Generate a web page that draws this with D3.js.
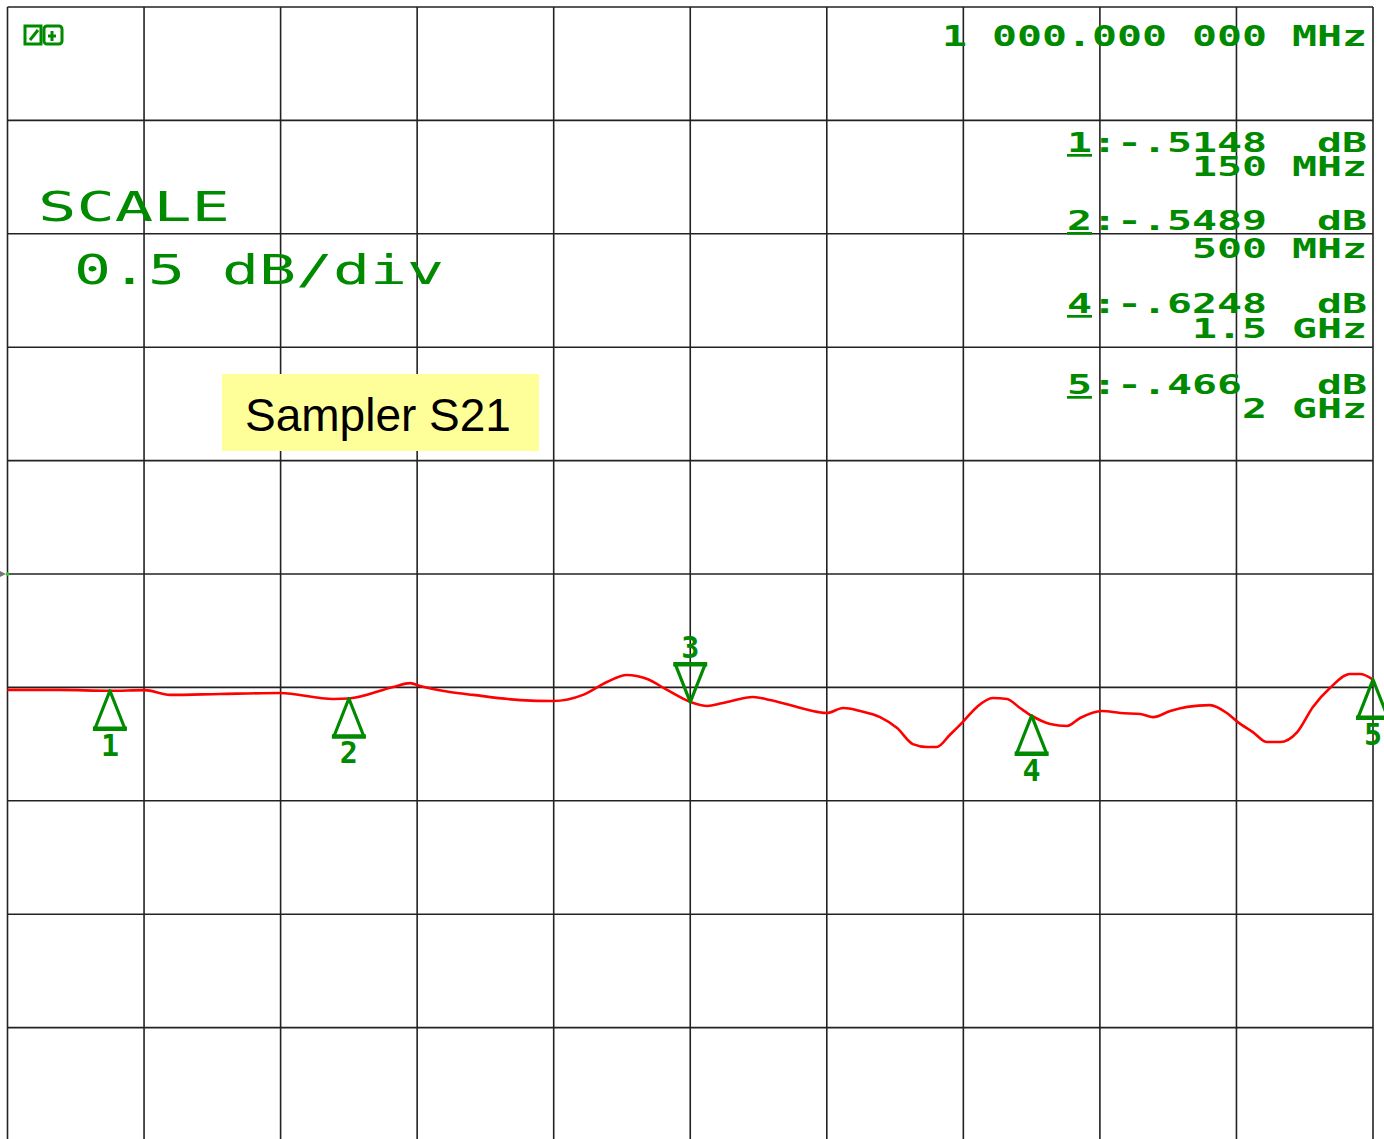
<!DOCTYPE html>
<html>
<head>
<meta charset="utf-8">
<script src="https://cdn.jsdelivr.net/npm/d3@7"></script>
<style>
  body { margin: 0; background: #fff; }
  svg { display: block; }
  .inst { font-family: "DejaVu Sans Mono", monospace; fill: #008a00; white-space: pre; }
</style>
</head>
<body>
<script>
// trace: frequency (MHz) and S21 (dB)
let traceFreq = [0, 77, 150, 201, 238, 311, 399, 477, 500, 565, 590, 604, 648, 682, 751, 799, 843, 878, 907, 937, 966,
    1000, 1025, 1054, 1092, 1117, 1146, 1186, 1200, 1224, 1249, 1278, 1303, 1326, 1347, 1361, 1380, 1399, 1420, 1443,
    1464, 1483, 1500, 1527, 1552, 1571, 1603, 1630, 1659, 1678, 1703, 1728, 1761, 1786, 1802, 1824, 1845, 1864, 1889,
    1912, 1937, 1966, 1981, 2000];
let traceDb = [-0.511, -0.511, -0.515, -0.512, -0.533, -0.529, -0.525, -0.551, -0.549, -0.498, -0.481, -0.494, -0.520,
    -0.533, -0.556, -0.560, -0.533, -0.476, -0.445, -0.463, -0.511, -0.564, -0.582, -0.564, -0.542, -0.556, -0.578,
    -0.608, -0.613, -0.591, -0.604, -0.631, -0.679, -0.750, -0.763, -0.763, -0.710, -0.653, -0.586, -0.547, -0.551,
    -0.591, -0.625, -0.661, -0.670, -0.635, -0.604, -0.613, -0.617, -0.631, -0.604, -0.586, -0.578, -0.613, -0.653,
    -0.697, -0.741, -0.741, -0.697, -0.586, -0.503, -0.441, -0.441, -0.466];

let markerIds = ["1", "2", "3", "4", "5"];
let markerFreq = [150, 500, 1000, 1500, 2000];
let markerDb = [-0.5148, -0.5489, -0.565, -0.6248, -0.466];
let markerUp = [true, true, false, true, true];

// readout block, right aligned
let readNum = ["1", "2", "4", "5"];
let readVal = [":-.5148  dB", ":-.5489  dB", ":-.6248  dB", ":-.466   dB"];
let readFreq = ["150 MHz", "500 MHz", "1.5 GHz", "2 GHz"];
let centerText = "1 000.000 000 MHz";
let scaleTitle = "SCALE";
let scaleText = "0.5 dB/div";
let labelText = "Sampler S21";

let outerWidth = 1384;
let outerHeight = 1139;
let green = "#008a00";
let pitch = 25;

let svg = d3.select("body")
    .append("svg")
    .attr("width", outerWidth)
    .attr("height", outerHeight);

let xScale = d3.scaleLinear().domain([0, 2000]).range([7.5, 1373]);
let yScale = d3.scaleLinear().domain([-2.5, 2.5]).range([1141, 7]);

// grid
let grid = svg.append("g").attr("class", "grid");
grid.selectAll(".vline")
    .data(d3.range(0, 2001, 200))
    .enter()
    .append("line")
        .attr("x1", d => xScale(d)).attr("x2", d => xScale(d))
        .attr("y1", yScale(2.5)).attr("y2", outerHeight)
        .attr("stroke", "#222").attr("stroke-width", 1.6);
grid.selectAll(".hline")
    .data(d3.range(-2.5, 2.51, 0.5))
    .enter()
    .append("line")
        .attr("x1", xScale(0)).attr("x2", xScale(2000))
        .attr("y1", d => yScale(d)).attr("y2", d => yScale(d))
        .attr("stroke", "#222").attr("stroke-width", 1.6);

// reference position arrow on the left
svg.append("path")
    .attr("d", "M0," + (yScale(0) - 3) + "L6," + yScale(0) + "L0," + (yScale(0) + 3) + "Z")
    .attr("fill", "#777");
svg.append("circle")
    .attr("cx", xScale(0)).attr("cy", yScale(0)).attr("r", 1.8)
    .attr("fill", "#2c2");

// top-left status symbol
let sym = svg.append("g").attr("fill", "none").attr("stroke", green).attr("stroke-width", 3);
sym.append("rect").attr("x", 25).attr("y", 26).attr("width", 16).attr("height", 18);
sym.append("rect").attr("x", 44).attr("y", 26).attr("width", 18).attr("height", 18).attr("rx", 3);
sym.append("path").attr("d", "M30,40 L38,30 M48,36 L56,36 M52,31 L52,41");

// label box
svg.append("rect")
    .attr("x", 222).attr("y", 374).attr("width", 317).attr("height", 77)
    .attr("fill", "#ffff99");
svg.append("text")
    .attr("x", 378).attr("y", 431)
    .attr("text-anchor", "middle")
    .style("font-family", "'Liberation Sans', Arial, sans-serif")
    .style("font-size", "46px")
    .attr("fill", "#000")
    .text(labelText);

// scale text
svg.append("text").attr("class", "inst")
    .attr("x", 38).attr("y", 221)
    .style("font-size", "41px")
    .attr("textLength", 192).attr("lengthAdjust", "spacingAndGlyphs")
    .text(scaleTitle);
svg.append("text").attr("class", "inst")
    .attr("x", 74).attr("y", 284)
    .style("font-size", "41px")
    .attr("textLength", 370).attr("lengthAdjust", "spacingAndGlyphs")
    .text(scaleText);

// centre frequency
svg.append("text").attr("class", "inst")
    .attr("x", 1367 - centerText.length * pitch).attr("y", 46)
    .style("font-size", "28px").style("font-weight", "bold")
    .attr("textLength", centerText.length * pitch).attr("lengthAdjust", "spacingAndGlyphs")
    .text(centerText);

// marker readouts
let rowY = [152, 230, 313, 394];
let freqY = [176, 258, 338, 418];
readNum.forEach(function(n, i) {
    let full = n + readVal[i];
    let t = svg.append("text").attr("class", "inst")
        .attr("x", 1367 - full.length * pitch).attr("y", rowY[i])
        .style("font-size", "27px").style("font-weight", "bold")
        .attr("textLength", full.length * pitch).attr("lengthAdjust", "spacingAndGlyphs");
    t.append("tspan").attr("text-decoration", "underline").text(n);
    t.append("tspan").text(readVal[i]);
    svg.append("text").attr("class", "inst")
        .attr("x", 1367 - readFreq[i].length * pitch).attr("y", freqY[i])
        .style("font-size", "27px").style("font-weight", "bold")
        .attr("textLength", readFreq[i].length * pitch).attr("lengthAdjust", "spacingAndGlyphs")
        .text(readFreq[i]);
});

// trace
let traceData = traceFreq.map((f, i) => [f, traceDb[i]]);
let lineGenerator = d3.line()
    .curve(d3.curveMonotoneX)
    .x(d => xScale(d[0]))
    .y(d => yScale(d[1]));
svg.append("path")
    .attr("d", lineGenerator(traceData))
    .attr("fill", "none")
    .attr("stroke", "#ff0000")
    .attr("stroke-width", 2.6)
    .attr("stroke-linejoin", "round");

// markers
let markerGroup = svg.append("g").attr("class", "markers");
markerIds.forEach(function(id, i) {
    let mx = xScale(markerFreq[i]);
    let my = yScale(markerDb[i]);
    let h = 38, w = 15;
    let path, ly;
    if (markerUp[i]) {
        path = "M" + mx + "," + my + "L" + (mx + w) + "," + (my + h) + "L" + (mx - w) + "," + (my + h) + "Z";
        ly = my + h + 27;
    } else {
        path = "M" + mx + "," + my + "L" + (mx + w) + "," + (my - h) + "L" + (mx - w) + "," + (my - h) + "Z";
        ly = my - h - 6;
    }
    markerGroup.append("path")
        .attr("d", path)
        .attr("fill", "none")
        .attr("stroke", green)
        .attr("stroke-width", 3.2)
        .attr("stroke-linejoin", "round");
    let by = markerUp[i] ? my + h : my - h;
    markerGroup.append("line")
        .attr("x1", mx - w - 2).attr("x2", mx + w + 2)
        .attr("y1", by).attr("y2", by)
        .attr("stroke", green).attr("stroke-width", 4.5);
    markerGroup.append("text").attr("class", "inst")
        .attr("x", mx).attr("y", ly)
        .attr("text-anchor", "middle")
        .style("font-size", "30px").style("font-weight", "bold")
        .text(id);
});
</script>
</body>
</html>
